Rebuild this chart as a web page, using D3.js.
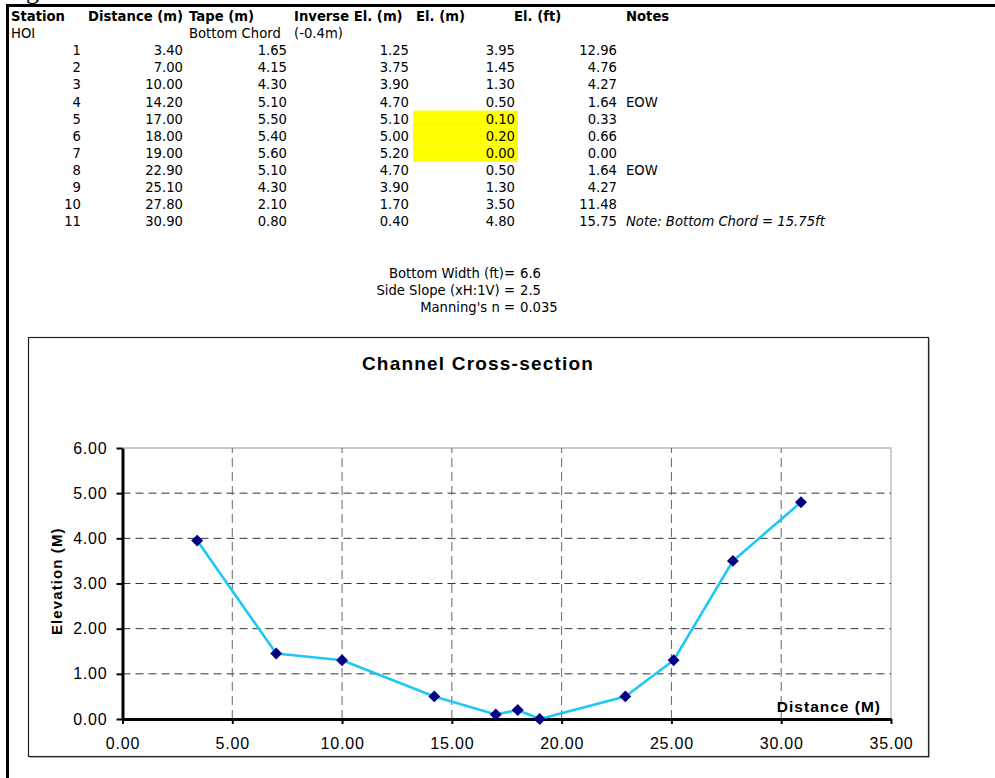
<!DOCTYPE html>
<html>
<head>
<meta charset="utf-8">
<script src="https://cdn.jsdelivr.net/npm/d3@7"></script>
<style>
  html, body { margin: 0; padding: 0; background: #fff; }
  svg { display: block; }
</style>
</head>
<body>
<svg id="chart" width="995" height="778"></svg>
<script>
// ---------- data ----------
const headers = ["Station", "Distance (m)", "Tape (m)", "Inverse El. (m)", "El. (m)", "El. (ft)", "Notes"];
const subHeaders = ["HOI", "", "Bottom Chord", "(-0.4m)", "", "", ""];
const stations = [1, 2, 3, 4, 5, 6, 7, 8, 9, 10, 11];
const distance = [3.40, 7.00, 10.00, 14.20, 17.00, 18.00, 19.00, 22.90, 25.10, 27.80, 30.90];
const tape = [1.65, 4.15, 4.30, 5.10, 5.50, 5.40, 5.60, 5.10, 4.30, 2.10, 0.80];
const inverseEl = [1.25, 3.75, 3.90, 4.70, 5.10, 5.00, 5.20, 4.70, 3.90, 1.70, 0.40];
const elevM = [3.95, 1.45, 1.30, 0.50, 0.10, 0.20, 0.00, 0.50, 1.30, 3.50, 4.80];
const elevFt = [12.96, 4.76, 4.27, 1.64, 0.33, 0.66, 0.00, 1.64, 4.27, 11.48, 15.75];
const notes = ["", "", "", "EOW", "", "", "", "EOW", "", "", "Note: Bottom Chord = 15.75ft"];
const highlighted = [5, 6, 7];
const paramLabels = ["Bottom Width (ft)=", "Side Slope (xH:1V) =", "Manning's n ="];
const paramValues = ["6.6", "2.5", "0.035"];
const chartTitle = "Channel Cross-section";
const xTicks = [0, 5, 10, 15, 20, 25, 30, 35];
const yTicks = [0, 1, 2, 3, 4, 5, 6];
const xTitle = "Distance (M)";
const yTitle = "Elevation (M)";

// ---------- page ----------
const svg = d3.select("#chart");
const tFont = "'DejaVu Sans', Verdana, sans-serif";

// partially visible heading above the frame
svg.append("text").attr("x", 26).attr("y", -1)
  .attr("font-family", "'Liberation Serif', 'Times New Roman', serif")
  .attr("font-size", 26).text("g");

// page frame
svg.append("path").attr("d", "M7.5,778 L7.5,5.5 L995,5.5")
  .attr("fill", "none").attr("stroke", "#000").attr("stroke-width", 3);

// ---------- table ----------
const rowY = i => 21 + i * 17.1;
const colX = [81, 183, 287, 409, 515, 617, 626];
const headX = [11, 88, 189, 294, 416, 514, 626];
const subX = [11, null, 189, 294, null, null, null];

const tbl = svg.append("g").attr("font-family", tFont).attr("font-size", 13.2).attr("fill", "#000");

// yellow highlight cells
tbl.selectAll("rect.hl").data(highlighted).join("rect")
  .attr("x", 413).attr("width", 105)
  .attr("y", d => rowY(d + 1) - 13).attr("height", 17.1)
  .attr("fill", "#ffff00");

tbl.selectAll("text.hd").data(headers).join("text")
  .attr("x", (d, i) => headX[i]).attr("y", rowY(0))
  .attr("font-weight", "bold").text(d => d);

tbl.selectAll("text.sub").data(subHeaders.filter(d => d)).join("text")
  .attr("x", d => subX[subHeaders.indexOf(d)]).attr("y", rowY(1)).text(d => d);

const fmt2 = d3.format(".2f");
const rows = stations.map((s, i) => [String(s), fmt2(distance[i]), fmt2(tape[i]), fmt2(inverseEl[i]), fmt2(elevM[i]), fmt2(elevFt[i]), notes[i]]);
rows.forEach((r, ri) => {
  r.forEach((v, ci) => {
    if (!v) return;
    const t = tbl.append("text").attr("x", colX[ci]).attr("y", rowY(ri + 2)).text(v);
    if (ci < 6) t.attr("text-anchor", "end");
    else if (ri === 10) t.attr("font-style", "italic");
  });
});

// parameters
const prm = svg.append("g").attr("font-family", tFont).attr("font-size", 13.2);
paramLabels.forEach((l, i) => {
  prm.append("text").attr("x", 515).attr("y", 278 + i * 17).attr("text-anchor", "end").text(l);
  prm.append("text").attr("x", 520).attr("y", 278 + i * 17).text(paramValues[i]);
});

// ---------- chart ----------
const box = { x: 28.5, y: 337.5, w: 900, h: 419 };
svg.append("rect").attr("x", box.x + 1.5).attr("y", box.y + 1.5).attr("width", box.w).attr("height", box.h)
  .attr("fill", "#bbb");
svg.append("rect").attr("x", box.x).attr("y", box.y).attr("width", box.w).attr("height", box.h)
  .attr("fill", "#fff").attr("stroke", "#222").attr("stroke-width", 1.2);

const x = d3.scaleLinear().domain([0, 35]).range([122.5, 891]);
const y = d3.scaleLinear().domain([0, 6]).range([719, 448]);
const cFont = "'Liberation Sans', Arial, sans-serif";

svg.append("text").attr("x", 478).attr("y", 370).attr("text-anchor", "middle")
  .attr("font-family", cFont).attr("font-size", 19).attr("font-weight", "bold")
  .attr("letter-spacing", 1.2).text(chartTitle);

// plot area border (top/right)
svg.append("path")
  .attr("d", `M${x(0)},${y(6)} H${x(35)} V${y(0)}`)
  .attr("fill", "none").attr("stroke", "#b8b8b8").attr("stroke-width", 1.3);

// grid
svg.append("g").selectAll("line").data(yTicks.filter(v => v > 0 && v < 6)).join("line")
  .attr("x1", x(0)).attr("x2", x(35)).attr("y1", d => y(d)).attr("y2", d => y(d))
  .attr("stroke", "#333").attr("stroke-width", 1).attr("stroke-dasharray", "8,5");
svg.append("g").selectAll("line").data(xTicks.filter(v => v > 0 && v < 35)).join("line")
  .attr("x1", d => x(d)).attr("x2", d => x(d)).attr("y1", y(0)).attr("y2", y(6))
  .attr("stroke", "#666").attr("stroke-width", 1).attr("stroke-dasharray", "9,5");

// axes
const xAxis = svg.append("g").attr("transform", `translate(0,${y(0)})`)
  .call(d3.axisBottom(x).tickValues(xTicks).tickFormat(fmt2).tickSize(5).tickSizeOuter(0).tickPadding(14));
const yAxis = svg.append("g").attr("transform", `translate(${x(0)},0)`)
  .call(d3.axisLeft(y).tickValues(yTicks).tickFormat(fmt2).tickSize(6).tickSizeOuter(0).tickPadding(9));
[xAxis, yAxis].forEach(a => {
  a.select(".domain").attr("stroke", "#000").attr("stroke-width", 3);
  a.selectAll(".tick line").attr("stroke", "#000").attr("stroke-width", 2);
  a.selectAll(".tick text").attr("font-family", cFont).attr("font-size", 16)
    .attr("letter-spacing", 0.8).attr("fill", "#000");
});

// axis titles
svg.append("text").attr("x", 881).attr("y", 712).attr("text-anchor", "end")
  .attr("font-family", cFont).attr("font-size", 15.5).attr("font-weight", "bold")
  .attr("letter-spacing", 1).text(xTitle);
svg.append("text").attr("transform", `translate(62,${y(3.05)}) rotate(-90)`).attr("text-anchor", "middle")
  .attr("font-family", cFont).attr("font-size", 15).attr("font-weight", "bold")
  .attr("letter-spacing", 1.1).text(yTitle);

// series
const pts = distance.map((d, i) => [d, elevM[i]]);
svg.append("path").datum(pts)
  .attr("d", d3.line().x(d => x(d[0])).y(d => y(d[1])))
  .attr("fill", "none").attr("stroke", "#1ec8f4").attr("stroke-width", 2.6).attr("stroke-linejoin", "round");
svg.append("g").selectAll("path").data(pts).join("path")
  .attr("d", d3.symbol(d3.symbolDiamond2, 90))
  .attr("transform", d => `translate(${x(d[0])},${y(d[1])})`)
  .attr("fill", "#000080");
</script>
</body>
</html>
